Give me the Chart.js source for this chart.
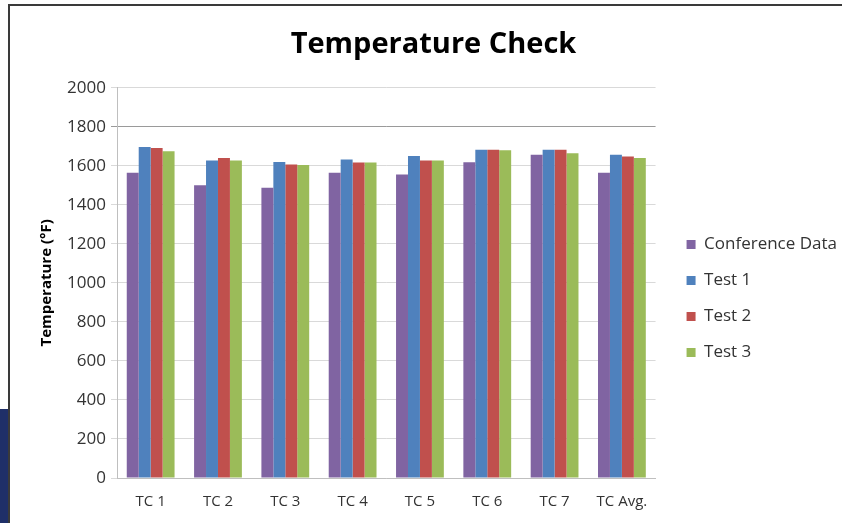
<!DOCTYPE html>
<html lang="en">
<head>
  <meta charset="UTF-8" />
  <title>Temperature Check</title>
  <script src="https://cdn.jsdelivr.net/npm/chart.js"></script>
  <style>
    html,body{margin:0;padding:0;background:#fff;overflow:hidden}
    body{width:842px;height:523px;position:relative}
    #wrap{position:absolute;left:20px;top:0;width:827px;height:523px}
    .frameTop{position:absolute;left:8px;top:4px;width:834px;height:2px;background:#3a3a3a;z-index:2}
    .frameLeft{position:absolute;left:8px;top:4px;width:2px;height:519px;background:#3a3a3a;z-index:2}
    .navy{position:absolute;left:0;top:409px;width:8px;height:114px;background:#1f2f68;z-index:2}
  </style>
</head>
<body>
  <div class="navy"></div>
  <div class="frameTop"></div>
  <div class="frameLeft"></div>
  <div id="wrap"><canvas id="tempChart"></canvas></div>

<script>
/* ---------- data ---------- */
const categories     = ['TC 1','TC 2','TC 3','TC 4','TC 5','TC 6','TC 7','TC Avg.'];
const conferenceData = [1565,1500,1488,1565,1555,1618,1657,1565];
const test1          = [1697,1628,1620,1632,1650,1683,1683,1657];
const test2          = [1692,1640,1607,1617,1628,1683,1683,1648];
const test3          = [1675,1628,1604,1617,1628,1680,1665,1640];
const yTicks         = [0,200,400,600,800,1000,1200,1400,1600,1800,2000];

const FONT = '"Open Sans", "DejaVu Sans", sans-serif';

/* ---------- chart ---------- */
const ctx = document.getElementById('tempChart').getContext('2d');
new Chart(ctx,{
  type:'bar',
  data:{
    labels:categories,
    datasets:[
      {label:'Conference Data',data:conferenceData,backgroundColor:'#8064A2'},
      {label:'Test 1',         data:test1,         backgroundColor:'#4F81BD'},
      {label:'Test 2',         data:test2,         backgroundColor:'#C0504D'},
      {label:'Test 3',         data:test3,         backgroundColor:'#9BBB59'}
    ]
  },
  options:{
    responsive:true,maintainAspectRatio:false,animation:false,
    datasets:{bar:{categoryPercentage:0.71,barPercentage:1.0,borderWidth:0}},
    layout:{padding:0},
    plugins:{
      title:{display:true,text:'Temperature Check',color:'#000',
        font:{family:FONT,size:29,weight:'bold',lineHeight:1.2},padding:{top:27,bottom:26}},
      legend:{position:'right',align:'start',maxWidth:200,
        title:{display:true,text:' ',font:{size:10,lineHeight:1},padding:{top:207,bottom:0}},
        labels:{boxWidth:9,boxHeight:9,padding:19,color:'#333',
          font:{family:FONT,size:17}}},
      tooltip:{enabled:false}
    },
    scales:{
      x:{
        afterFit:(s)=>{s.height=45;},
        grid:{display:false},
        border:{color:'#bfbfbf'},
        ticks:{color:'#333',font:{family:FONT,size:15},padding:7}
      },
      y:{
        min:0,max:2000,
        afterFit:(s)=>{s.width=97;},
        afterBuildTicks:(s)=>{s.ticks=yTicks.map(v=>({value:v}));},
        grid:{color:(c)=>c.tick && c.tick.value===1800 ? '#9a9a9a' : '#d9d9d9',
              tickLength:6,lineWidth:1},
        border:{color:'#bfbfbf'},
        ticks:{color:'#333',font:{family:FONT,size:17},padding:5,
          callback:(v)=>String(v)},
        title:{display:true,text:'Temperature (°F)',color:'#000',
          font:{family:FONT,size:15,weight:'bold'},padding:{top:18,bottom:0}}
      },
      // empty spacer between plot and legend
      gap:{
        type:'linear',position:'right',
        afterFit:(s)=>{s.width=12;},
        grid:{display:false,drawTicks:false},
        border:{display:false},
        ticks:{display:false}
      }
    }
  }
});
</script>
</body>
</html>
